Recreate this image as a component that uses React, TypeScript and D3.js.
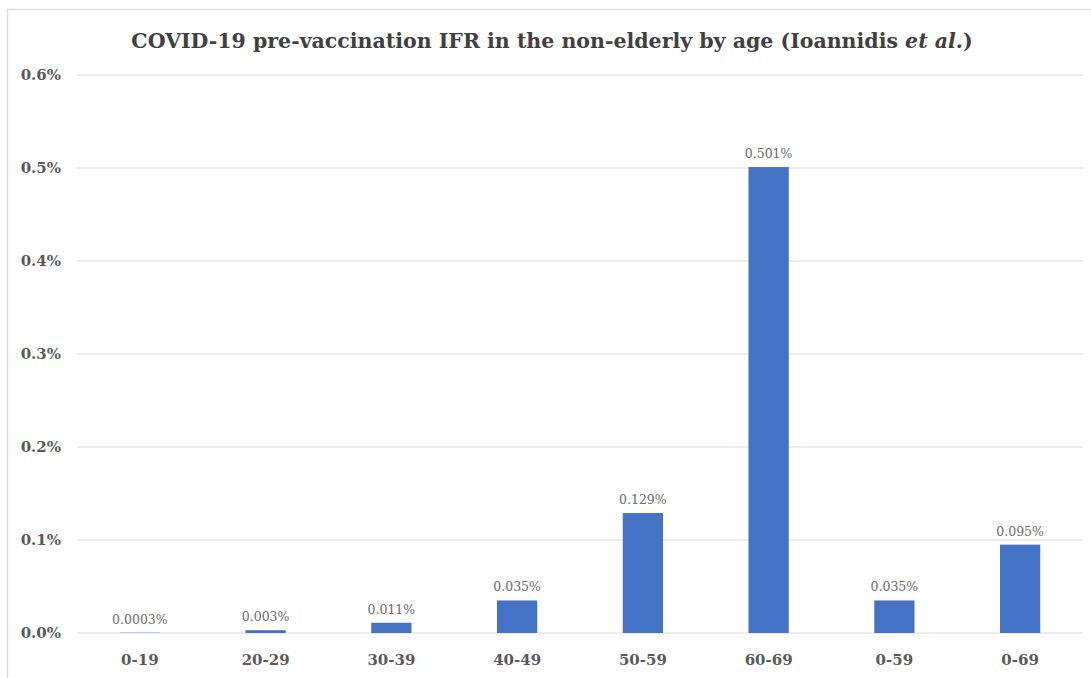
import React from 'react';
import * as d3 from 'd3';

// Ioannidis et al. IFR by age band (percent)
const categories = ['0-19', '20-29', '30-39', '40-49', '50-59', '60-69', '0-59', '0-69'];
const ifrValues = [0.0003, 0.003, 0.011, 0.035, 0.129, 0.501, 0.035, 0.095];
const valueLabels = ['0.0003%', '0.003%', '0.011%', '0.035%', '0.129%', '0.501%', '0.035%', '0.095%'];
const yTicks = [0, 0.1, 0.2, 0.3, 0.4, 0.5, 0.6];

const W = 1091;
const H = 678;
const plot = { left: 77, right: 1083, top: 75, bottom: 633 };

const serif = "'DejaVu Serif', 'Liberation Serif', serif";

const App: React.FC = () => {
  const x = d3.scaleBand<string>()
    .domain(categories)
    .range([plot.left, plot.right])
    .padding(0);

  const y = d3.scaleLinear()
    .domain([0, 0.6])
    .range([plot.bottom, plot.top]);

  const barW = x.bandwidth() * 0.32;

  return (
    <>
      <style>{`body{margin:0}`}</style>
      <svg width={W} height={H} style={{ display: 'block', background: '#fff' }}>
        {/* chart frame */}
        <rect x={7.5} y={9.5} width={1200} height={800} fill="none" stroke="#dcdcdc" strokeWidth={1.5} />

        <text
          x={552}
          y={48}
          textAnchor="middle"
          fontFamily={serif}
          fontWeight="bold"
          fontSize={20.5}
          fill="#404040"
        >
          COVID-19 pre-vaccination IFR in the non-elderly by age (Ioannidis <tspan fontStyle="italic">et al.</tspan>)
        </text>

        {/* gridlines */}
        {yTicks.map(t => (
          <line
            key={`g${t}`}
            x1={plot.left}
            x2={plot.right}
            y1={y(t)}
            y2={y(t)}
            stroke="#d9d9d9"
            strokeWidth={1.2}
          />
        ))}

        {/* y tick labels */}
        {yTicks.map(t => (
          <text
            key={`t${t}`}
            x={61}
            y={y(t) + 5}
            textAnchor="end"
            fontFamily={serif}
            fontWeight="bold"
            fontSize={15}
            fill="#595959"
          >
            {d3.format('.1f')(t)}%
          </text>
        ))}

        {/* bars */}
        {categories.map((c, i) => {
          const cx = x(c)! + x.bandwidth() / 2;
          return (
            <g key={c}>
              <rect
                x={cx - barW / 2}
                y={y(ifrValues[i])}
                width={barW}
                height={plot.bottom - y(ifrValues[i])}
                fill="#4472c4"
              />
              <text
                x={cx}
                y={y(ifrValues[i]) - 9}
                textAnchor="middle"
                fontFamily={serif}
                fontSize={12.5}
                fill="#6a6a6a"
              >
                {valueLabels[i]}
              </text>
              <text
                x={cx}
                y={plot.bottom + 32}
                textAnchor="middle"
                fontFamily={serif}
                fontWeight="bold"
                fontSize={15}
                fill="#595959"
              >
                {c}
              </text>
            </g>
          );
        })}
      </svg>
    </>
  );
};

export default App;
